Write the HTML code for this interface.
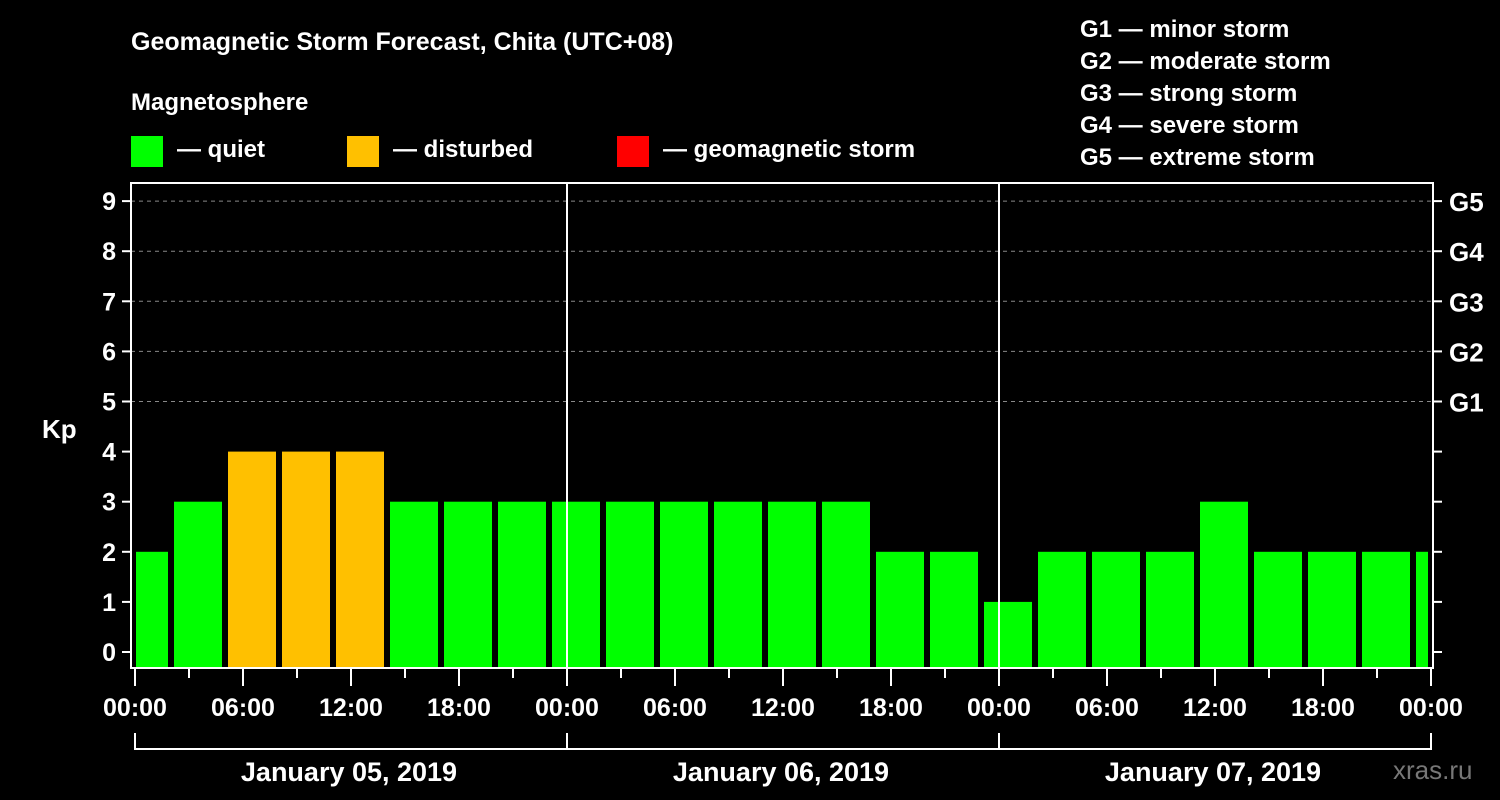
<!DOCTYPE html>
<html><head><meta charset="utf-8"><style>
html,body{margin:0;padding:0;background:#000;}
svg{display:block;font-family:"Liberation Sans",Arial,sans-serif;font-weight:bold;}
</style></head><body>
<svg id="chart" width="1500" height="800" viewBox="0 0 1500 800">
<rect width="1500" height="800" fill="#000"/>
<text x="131" y="50" fill="#fff" font-size="25">Geomagnetic Storm Forecast, Chita (UTC+08)</text>
<text x="131" y="110" fill="#fff" font-size="24">Magnetosphere</text>
<g><rect x="131" y="136" width="32" height="31" fill="#00ff00"/><text x="177" y="157" fill="#fff" font-size="24">— quiet</text></g>
<g><rect x="347" y="136" width="32" height="31" fill="#ffc000"/><text x="393" y="157" fill="#fff" font-size="24">— disturbed</text></g>
<g><rect x="617" y="136" width="32" height="31" fill="#ff0000"/><text x="663" y="157" fill="#fff" font-size="24">— geomagnetic storm</text></g>
<g fill="#fff" font-size="24">
<text x="1080" y="37">G1 — minor storm</text>
<text x="1080" y="69">G2 — moderate storm</text>
<text x="1080" y="101">G3 — strong storm</text>
<text x="1080" y="133">G4 — severe storm</text>
<text x="1080" y="165">G5 — extreme storm</text>
</g>
<text x="42" y="438" fill="#fff" font-size="26">Kp</text>
<text x="1393" y="779" fill="#777" font-size="26" font-weight="normal">xras.ru</text>
<g id="plot"></g>
</svg>
<script>
const kpValues=[2,3,4,4,4,3,3,3,3,3,3,3,3,3,2,2,1,2,2,2,3,2,2,2,2];
const xTickLabels=["00:00","06:00","12:00","18:00","00:00","06:00","12:00","18:00","00:00","06:00","12:00","18:00","00:00"];
const dayLabels=["January 05, 2019","January 06, 2019","January 07, 2019"];
const yTickLabels=["0","1","2","3","4","5","6","7","8","9"];
const gLabels=["G1","G2","G3","G4","G5"];
const firstBarStartHour=-1;
const ns="http://www.w3.org/2000/svg";
const g=document.getElementById('plot');
const L=131,R=1433,T=183,B=668;
const X=h=>135+h*18;
const Y=v=>652-v*50.1;
function mk(tag,a,parent){const e=document.createElementNS(ns,tag);for(const k in a)e.setAttribute(k,a[k]);(parent||g).appendChild(e);return e;}
// grid
for(let v=5;v<=9;v++){
 const ln=mk('line',{x1:L,x2:R,y1:Y(v),y2:Y(v),stroke:'#888','stroke-dasharray':'4,4','stroke-width':1});
 
 
}
// bars
kpValues.forEach((v,i)=>{
 const s=firstBarStartHour+3*i,e=s+3;
 let x0=Math.max(X(s)+3,X(0)+1),x1=Math.min(X(e)-3,X(72)-3);
 const col=v>=5?'#ff0000':(v>=4?'#ffc000':'#00ff00');
 const r=mk('rect',{x:x0,y:Y(v),width:x1-x0,height:B-Y(v),fill:col});
 
 
});
// day separators
[24,48].forEach(h=>{
 const ln=mk('line',{x1:X(h),x2:X(h),y1:T,y2:B,stroke:'#fff','stroke-width':2});
 
 
});
// frame
const fr=mk('rect',{x:L,y:T,width:R-L,height:B-T,fill:'none',stroke:'#fff','stroke-width':2});


// y ticks
yTickLabels.forEach((t,v)=>{
 mk('line',{x1:122,x2:L,y1:Y(v),y2:Y(v),stroke:'#fff','stroke-width':2});
 mk('line',{x1:R,x2:1442,y1:Y(v),y2:Y(v),stroke:'#fff','stroke-width':2});
 const tx=mk('text',{x:116,y:Y(v)+9,fill:'#fff','font-size':25,'text-anchor':'end'});
 tx.textContent=t;
 
 
});
gLabels.forEach((t,i)=>{
 const tx=mk('text',{x:1449,y:Y(5+i)+10,fill:'#fff','font-size':26});
 tx.textContent=t;
 
 
});
// x ticks
for(let h=0;h<=72;h+=3){
 const major=h%6===0;
 mk('line',{x1:X(h),x2:X(h),y1:B,y2:major?686:678,stroke:'#fff','stroke-width':2});
}
xTickLabels.forEach((t,i)=>{
 const tx=mk('text',{x:X(i*6),y:716,fill:'#fff','font-size':25,'text-anchor':'middle'});
 tx.textContent=t;
 
 
});
// day brackets
mk('path',{d:`M${X(0)} 733V749H${X(72)}V733`,fill:'none',stroke:'#fff','stroke-width':2});
[24,48].forEach(h=>mk('line',{x1:X(h),x2:X(h),y1:733,y2:749,stroke:'#fff','stroke-width':2}));
dayLabels.forEach((t,i)=>{
 const tx=mk('text',{x:X(i*24+12)-2,y:781,fill:'#fff','font-size':27,'text-anchor':'middle'});
 tx.textContent=t;
 
 
});
</script>
</body></html>
